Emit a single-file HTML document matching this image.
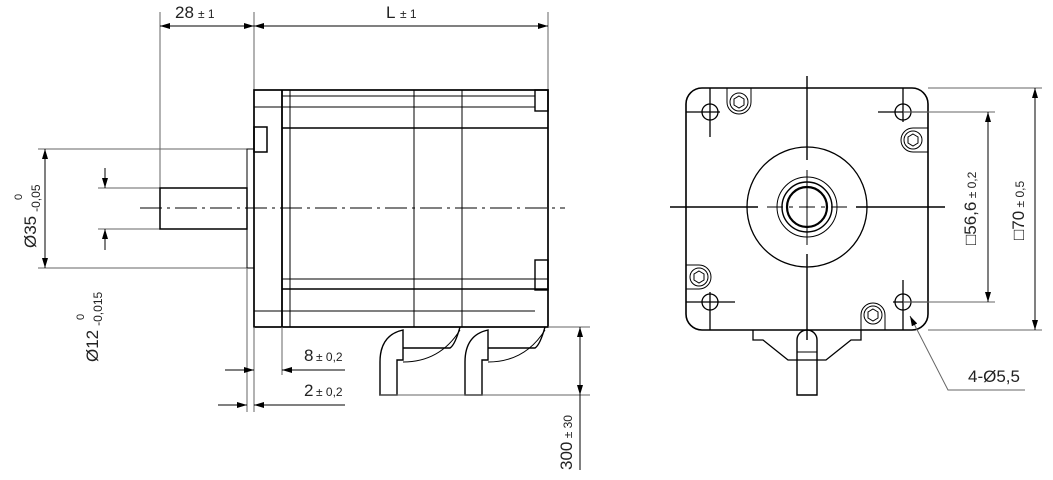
<!DOCTYPE html>
<html><head><style>body{margin:0;background:#fff}svg{display:block}text{font-family:"Liberation Sans",sans-serif;fill:#222}</style></head><body>
<svg width="1053" height="480" viewBox="0 0 1053 480" xmlns="http://www.w3.org/2000/svg">
<defs><marker id="a" viewBox="0 0 10 6" refX="10" refY="3" markerWidth="10" markerHeight="6" orient="auto-start-reverse"><path d="M0,0L10,3L0,6z" fill="#000"/></marker></defs>
<g stroke="#000" fill="none" stroke-width="1">
<line x1="160" y1="12" x2="160" y2="188" stroke="#666"/>
<line x1="254" y1="12" x2="254" y2="90" stroke="#666"/>
<line x1="548" y1="12" x2="548" y2="90" stroke="#666"/>
<line x1="160" y1="26" x2="254" y2="26" marker-start="url(#a)" marker-end="url(#a)"/>
<line x1="254" y1="26" x2="548" y2="26" marker-start="url(#a)" marker-end="url(#a)"/>
<line x1="38" y1="149" x2="247" y2="149" stroke="#666"/>
<line x1="38" y1="268" x2="247" y2="268" stroke="#666"/>
<line x1="45" y1="149" x2="45" y2="268" marker-start="url(#a)" marker-end="url(#a)"/>
<line x1="98" y1="188" x2="160" y2="188" stroke="#666"/>
<line x1="98" y1="229" x2="160" y2="229" stroke="#666"/>
<line x1="105" y1="168" x2="105" y2="188" marker-end="url(#a)"/>
<line x1="105" y1="250" x2="105" y2="229" marker-end="url(#a)"/>
<path d="M160,188H247V229H160Z" stroke-width="1.5"/>
<rect x="247" y="149" width="7" height="119"/>
<rect x="254" y="90" width="294" height="237" stroke-width="1.7"/>
<rect x="254" y="127" width="13" height="25" stroke-width="1.5"/>
<line x1="282" y1="90" x2="282" y2="327" stroke-width="1.8"/>
<line x1="290" y1="90" x2="290" y2="327"/>
<line x1="414" y1="90" x2="414" y2="327"/>
<line x1="462" y1="90" x2="462" y2="327"/>
<line x1="282" y1="96" x2="535" y2="96"/>
<line x1="254" y1="107" x2="535" y2="107"/>
<line x1="282" y1="128" x2="548" y2="128" stroke-width="1.6"/>
<line x1="282" y1="279" x2="548" y2="279"/>
<line x1="282" y1="289" x2="548" y2="289" stroke-width="1.6"/>
<line x1="254" y1="311" x2="535" y2="311"/>
<rect x="535" y="90" width="13" height="21" stroke-width="1.4"/>
<rect x="535" y="260" width="13" height="30" stroke-width="1.4"/>
<line x1="140" y1="208" x2="565" y2="208" stroke-dasharray="22,5,3,5"/>
<path d="M380,395V362Q380,335 403,330V360H397V395Z M403,348H450Q455,345 460,327" stroke-width="1.4"/>
<path d="M403,362Q440,362 460,330" />
<path d="M465,395V362Q465,335 488,330V360H482V395Z M488,348H535Q540,345 545,327" stroke-width="1.4"/>
<path d="M488,362Q525,362 545,330"/>
<line x1="380" y1="395" x2="590" y2="395" stroke="#666"/>
<line x1="548" y1="327" x2="590" y2="327" stroke="#666"/>
<line x1="580" y1="327" x2="580" y2="395" marker-start="url(#a)" marker-end="url(#a)"/>
<line x1="580" y1="395" x2="580" y2="470"/>
<line x1="247" y1="268" x2="247" y2="412" stroke="#666"/>
<line x1="254" y1="327" x2="254" y2="412" stroke="#666"/>
<line x1="282" y1="327" x2="282" y2="375" stroke="#666"/>
<line x1="225" y1="370" x2="254" y2="370" marker-end="url(#a)"/>
<line x1="345" y1="370" x2="282" y2="370" marker-end="url(#a)"/>
<line x1="218" y1="405" x2="247" y2="405" marker-end="url(#a)"/>
<line x1="345" y1="405" x2="254" y2="405" marker-end="url(#a)"/>
<rect x="686" y="88" width="242" height="242" rx="16" stroke-width="1.6"/>
<circle cx="807" cy="207" r="60" stroke-width="1.3"/>
<circle cx="807" cy="207" r="30"/>
<circle cx="807" cy="207" r="25" stroke-width="1.4"/>
<circle cx="807" cy="207" r="20" stroke-width="2.2"/>
<line x1="670" y1="207" x2="758" y2="207" stroke-width="1.4"/>
<line x1="767" y1="207" x2="847" y2="207" stroke-dasharray="16,6,4,6"/>
<line x1="856" y1="207" x2="945" y2="207" stroke-width="1.4"/>
<line x1="807" y1="76" x2="807" y2="160" stroke-width="1.4"/>
<line x1="807" y1="170" x2="807" y2="245"/>
<line x1="807" y1="254" x2="807" y2="340" stroke-width="1.4"/>
<g stroke-width="1.3">
<circle cx="710" cy="112" r="8"/><line x1="686" y1="112" x2="720" y2="112"/><line x1="710" y1="88" x2="710" y2="137"/>
<circle cx="903" cy="112" r="8"/><line x1="878" y1="112" x2="928" y2="112"/><line x1="903" y1="88" x2="903" y2="122"/>
<circle cx="710" cy="302" r="8"/><line x1="686" y1="302" x2="735" y2="302"/><line x1="710" y1="292" x2="710" y2="330"/>
<circle cx="903" cy="302" r="8"/><line x1="893" y1="302" x2="928" y2="302"/><line x1="903" y1="280" x2="903" y2="330"/>
</g>
<g>
<path d="M727,88V102A12,12 0 0 0 751,102V88"/><circle cx="739" cy="102" r="9"/><polygon points="739,96 744,99 744,105 739,108 734,105 734,99"/>
<path d="M928,128H913A12,12 0 0 0 913,152H928"/><circle cx="913" cy="140" r="9"/><polygon points="913,134 918,137 918,143 913,146 908,143 908,137"/>
<path d="M686,265H699A12,12 0 0 1 699,289H686"/><circle cx="699" cy="277" r="9"/><polygon points="699,271 704,274 704,280 699,283 694,280 694,274"/>
<path d="M861,330V315A12,12 0 0 1 885,315V330"/><circle cx="873" cy="315" r="9"/><polygon points="873,309 878,312 878,318 873,321 868,318 868,312"/>
</g>
<path d="M753,330V340H763L788,360H826L851,340H861V330" stroke-width="1.3"/>
<path d="M797,395V340A10,10 0 0 1 817,340V395Z" stroke-width="1.4"/>
<line x1="797" y1="352" x2="817" y2="352"/>
<line x1="928" y1="88" x2="1042" y2="88" stroke="#666"/>
<line x1="928" y1="330" x2="1042" y2="330" stroke="#666"/>
<line x1="903" y1="112" x2="995" y2="112" stroke="#666"/>
<line x1="903" y1="302" x2="995" y2="302" stroke="#666"/>
<line x1="988" y1="112" x2="988" y2="302" marker-start="url(#a)" marker-end="url(#a)"/>
<line x1="1035" y1="88" x2="1035" y2="330" marker-start="url(#a)" marker-end="url(#a)"/>
<polyline points="1025,390 948,390 910,316" stroke="#666" marker-end="url(#a)"/>
</g>
<g font-size="17">
<text x="175" y="18">28</text><text x="198" y="18" font-size="12">± 1</text>
<text x="386" y="18">L</text><text x="400" y="18" font-size="12">± 1</text>
<text x="304" y="361">8</text><text x="316" y="361" font-size="12">± 0,2</text>
<text x="304" y="396">2</text><text x="316" y="396" font-size="12">± 0,2</text>
<text x="968" y="382">4-Ø5,5</text>
<text transform="translate(36,248) rotate(-90)">Ø35<tspan font-size="12" dx="4" dy="4">-0,05</tspan></text>
<text transform="translate(22,200) rotate(-90)" font-size="11">0</text>
<text transform="translate(98,362) rotate(-90)">Ø12<tspan font-size="12" dx="4" dy="4">-0,015</tspan></text>
<text transform="translate(84,320) rotate(-90)" font-size="11">0</text>
<text transform="translate(572,470) rotate(-90)">300<tspan font-size="12"> ± 30</tspan></text>
<text transform="translate(976,245) rotate(-90)">□56,6<tspan font-size="12"> ± 0,2</tspan></text>
<text transform="translate(1024,240) rotate(-90)">□70<tspan font-size="12"> ± 0,5</tspan></text>
</g>
</svg>
</body></html>
